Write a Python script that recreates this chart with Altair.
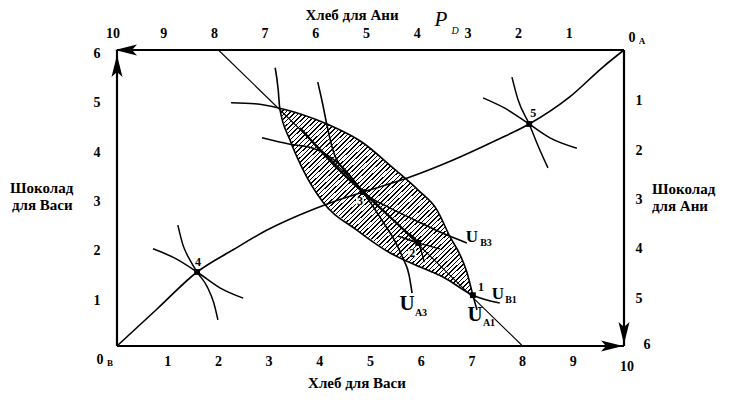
import altair as alt
import pandas as pd

# ===== Data: bread (x) and chocolate (y), counted from Vasya's origin 0_B =====
BREAD_MAX = 10
CHOC_MAX = 6

BUDGET_X = [2, 8]
BUDGET_Y = [6, 0]

CONTRACT_X = [0, 0.79, 1.58, 2.29, 2.96, 3.61, 4.20, 4.85, 5.74, 6.63, 7.50, 8.13, 8.93, 9.59, 10]
CONTRACT_Y = [0, 0.75, 1.50, 1.95, 2.35, 2.66, 2.90, 3.12, 3.41, 3.77, 4.18, 4.50, 5.05, 5.66, 6]

UA1_X = [2.25, 2.72, 3.21, 4.14, 4.85, 5.42, 5.94, 6.31, 6.57, 6.77, 6.90, 7.02, 7.10]
UA1_Y = [4.93, 4.91, 4.82, 4.50, 4.12, 3.63, 3.16, 2.76, 2.21, 1.84, 1.50, 1.03, 0.73]

UB1_X = [3.12, 3.18, 3.21, 3.41, 3.67, 4.06, 4.73, 5.38, 5.98, 6.43, 7.02, 7.55]
UB1_Y = [5.64, 5.19, 4.82, 4.18, 3.57, 2.92, 2.35, 1.89, 1.60, 1.40, 1.03, 0.87]

UA3_X = [2.86, 3.41, 3.87, 4.40, 4.85, 5.25, 5.50, 5.64, 5.76, 5.82]
UA3_Y = [4.22, 4.09, 4.01, 3.67, 3.12, 2.51, 2.09, 1.78, 1.44, 1.07]

UB3_X = [3.96, 4.06, 4.14, 4.26, 4.50, 4.85, 5.38, 5.88, 6.37, 6.90]
UB3_Y = [5.35, 4.89, 4.48, 3.97, 3.53, 3.12, 2.80, 2.55, 2.31, 2.09]

DIAG_X = [3.61, 4.34, 4.85, 5.38, 5.94]
DIAG_Y = [4.42, 3.61, 3.12, 2.62, 2.09]

UA2_X = [5.68, 5.94, 6.06]
UA2_Y = [2.31, 2.09, 1.70]
UB2_X = [5.54, 5.94, 6.37]
UB2_Y = [2.23, 2.09, 1.97]

C4A_X = [0.71, 1.14, 1.58, 2.03, 2.49]
C4A_Y = [1.97, 1.78, 1.50, 1.18, 0.97]
C4B_X = [1.20, 1.30, 1.44, 1.58, 1.78, 1.91, 1.99]
C4B_Y = [2.45, 2.05, 1.74, 1.50, 1.20, 0.87, 0.53]

C5A_X = [7.79, 7.91, 8.13, 8.30, 8.50]
C5A_Y = [5.45, 4.99, 4.50, 4.07, 3.61]
C5B_X = [7.22, 7.65, 8.13, 8.54, 9.07]
C5B_Y = [5.03, 4.82, 4.50, 4.22, 4.01]

# lens between U_A1 and U_B1 (shaded)
LENS_X = [3.21, 3.41, 3.67, 4.06, 4.40, 4.73, 5.09, 5.38, 5.68, 5.98, 6.31, 6.57, 6.77, 6.90, 7.02]
LENS_TOP = [4.82, 4.76, 4.68, 4.54, 4.38, 4.20, 3.93, 3.67, 3.41, 3.12, 2.76, 2.21, 1.84, 1.50, 1.03]
LENS_BOT = [4.82, 4.18, 3.57, 2.92, 2.62, 2.35, 2.11, 1.89, 1.74, 1.60, 1.44, 1.32, 1.20, 1.12, 1.03]

POINT_NAMES = ["1", "2", "3", "4", "5"]
POINT_X = [7.02, 5.94, 4.85, 1.58, 8.13]
POINT_Y = [1.03, 2.09, 3.12, 1.50, 4.50]

BREAD_TICKS = list(range(1, 10))
ANYA_BREAD_TICKS = list(range(1, 11))
VASYA_CHOC_TICKS = list(range(1, 7))
ANYA_CHOC_TICKS = list(range(1, 6))

# ===== Layout =====
W, H = 735, 398
BOX_L, BOX_R = 109, 616
BOX_B, BOX_T = 338, 42
FONT = "Liberation Serif"
INK = "black"

UX = (BOX_R - BOX_L) / BREAD_MAX
UY = (BOX_B - BOX_T) / CHOC_MAX
XS = alt.Scale(domain=[-BOX_L / UX, (W - BOX_L) / UX], nice=False, zero=False)
YS = alt.Scale(domain=[-(H - BOX_B) / UY, CHOC_MAX + BOX_T / UY], nice=False, zero=False)

LABEL_OFFSETS = {"1": (8, -8), "2": (-6, 10), "3": (-3, 9), "4": (1, -10), "5": (4, -11)}
LABEL_BACKED = {"2", "3"}  # labels sitting inside the hatching get a white patch


def xq(field="x"):
    return alt.X(f"{field}:Q", scale=XS, axis=None)


def yq(field="y"):
    return alt.Y(f"{field}:Q", scale=YS, axis=None)


def curve(xs, ys, width=1.5, interp="monotone"):
    df = pd.DataFrame({"x": xs, "y": ys, "i": range(len(xs))})
    return alt.Chart(df).mark_line(color=INK, strokeWidth=width, interpolate=interp).encode(
        x=xq(), y=yq(), order="i:Q"
    )


def label(text, px, py, size=15, weight="bold", style="normal", align="center"):
    # px, py: page pixels
    return alt.Chart(pd.DataFrame({"t": [text]})).mark_text(
        font=FONT, fontSize=size, fontWeight=weight, fontStyle=style, align=align,
        baseline="middle", color=INK,
    ).encode(x=alt.value(px - 8), y=alt.value(py - 8), text="t:N")


def ticks(df, dx, dy, size=14):
    return alt.Chart(df).mark_text(
        font=FONT, fontSize=size, fontWeight="bold", dx=dx, dy=dy, baseline="middle", color=INK
    ).encode(x=xq(), y=yq(), text="t:N")


# ===== hatching via striped gradient =====
N_STRIPES = 82
INK_SHARE = 0.32
stops = []
for k in range(N_STRIPES):
    a = k / N_STRIPES
    b = (k + INK_SHARE) / N_STRIPES
    stops += [
        alt.GradientStop(color="white", offset=a),
        alt.GradientStop(color=INK, offset=a),
        alt.GradientStop(color=INK, offset=b),
        alt.GradientStop(color="white", offset=b),
    ]
HATCH = alt.LinearGradient(gradient="linear", stops=stops, x1=0, y1=0, x2=1, y2=1)

lens = alt.Chart(pd.DataFrame({"x": LENS_X, "top": LENS_TOP, "bot": LENS_BOT})).mark_area(
    fill=HATCH, interpolate="monotone"
).encode(x=xq(), y=yq("top"), y2="bot:Q")

layers = [lens]

# ===== box axes =====
axes = pd.DataFrame({
    "x": [0, 0, 0, BREAD_MAX],
    "x2": [BREAD_MAX, 0, BREAD_MAX, BREAD_MAX],
    "y": [0, 0, CHOC_MAX, 0],
    "y2": [0, CHOC_MAX, CHOC_MAX, CHOC_MAX],
})
layers.append(
    alt.Chart(axes).mark_rule(color=INK, strokeWidth=2.2).encode(
        x=xq(), x2="x2:Q", y=yq(), y2="y2:Q"
    )
)

ARROW = "M0,-1L0.5,1L0,0.55L-0.5,1Z"
corner = [(0, CHOC_MAX, 0, 0, 16), (0, CHOC_MAX, 270, 9, 0), (BREAD_MAX, 0, 90, -12, 0), (BREAD_MAX, 0, 180, 0, -13)]
for cx, cy, ang, ox, oy in corner:
    layers.append(
        alt.Chart(pd.DataFrame({"x": [cx], "y": [cy]})).mark_point(
            shape=ARROW, size=484, filled=True, color=INK, opacity=1, angle=ang,
            xOffset=ox, yOffset=oy, strokeWidth=0,
        ).encode(x=xq(), y=yq())
    )

# ===== curves =====
layers.append(curve(BUDGET_X, BUDGET_Y, width=1.1, interp="linear"))
layers.append(curve(CONTRACT_X, CONTRACT_Y, width=1.6))
layers.append(curve(UA1_X, UA1_Y, width=1.6))
layers.append(curve(UB1_X, UB1_Y, width=1.6))
layers.append(curve(UA3_X, UA3_Y, width=1.6))
layers.append(curve(UB3_X, UB3_Y, width=1.6))
layers.append(curve(DIAG_X, DIAG_Y, width=2.2))
layers.append(curve(UA2_X, UA2_Y, width=1.4))
layers.append(curve(UB2_X, UB2_Y, width=1.4))
layers.append(curve(C4A_X, C4A_Y))
layers.append(curve(C4B_X, C4B_Y))
layers.append(curve(C5A_X, C5A_Y))
layers.append(curve(C5B_X, C5B_Y))

# ===== points =====
pts = pd.DataFrame({"x": POINT_X, "y": POINT_Y, "t": POINT_NAMES})
layers.append(
    alt.Chart(pts).mark_square(size=34, color=INK, opacity=1).encode(x=xq(), y=yq())
)
for name, px_, py_ in zip(POINT_NAMES, POINT_X, POINT_Y):
    dx, dy = LABEL_OFFSETS[name]
    one = pd.DataFrame({"x": [px_], "y": [py_], "t": [name]})
    if name in LABEL_BACKED:
        layers.append(
            alt.Chart(one).mark_square(
                size=64, color="white", opacity=1, xOffset=dx, yOffset=dy
            ).encode(x=xq(), y=yq())
        )
    layers.append(
        alt.Chart(one).mark_text(
            font=FONT, fontSize=12, fontWeight="bold", dx=dx, dy=dy, baseline="middle", color=INK
        ).encode(x=xq(), y=yq(), text="t:N")
    )

# ===== tick numbers =====
layers.append(ticks(pd.DataFrame({"x": BREAD_TICKS, "y": 0, "t": BREAD_TICKS}), 0, 16))
layers.append(ticks(pd.DataFrame({"x": [BREAD_MAX - v for v in ANYA_BREAD_TICKS], "y": CHOC_MAX,
                                  "t": ANYA_BREAD_TICKS}), -4, -16))
layers.append(ticks(pd.DataFrame({"x": 0, "y": VASYA_CHOC_TICKS, "t": VASYA_CHOC_TICKS}), -20, 4))
layers.append(ticks(pd.DataFrame({"x": BREAD_MAX, "y": [CHOC_MAX - v for v in ANYA_CHOC_TICKS],
                                  "t": ANYA_CHOC_TICKS}), 15, 2))
layers.append(ticks(pd.DataFrame({"x": [BREAD_MAX], "y": [0], "t": [BREAD_MAX]}), 3, 21))
layers.append(ticks(pd.DataFrame({"x": [BREAD_MAX], "y": [0], "t": [CHOC_MAX]}), 23, -1))

# ===== texts =====
layers += [
    label("Хлеб для Ани", 352, 15),
    label("Хлеб для Васи", 357, 383),
    label("Шоколад", 10, 188, align="left"),
    label("для Васи", 12, 205, align="left"),
    label("Шоколад", 652, 189, align="left"),
    label("для Ани", 652, 206, align="left"),
    label("P", 441, 20, size=21, weight="normal", style="italic"),
    label("D", 455, 31, size=10, weight="normal", style="italic"),
    label("0", 632, 38, size=14),
    label("A", 642, 41, size=9),
    label("0", 100, 360, size=14),
    label("B", 110, 363, size=9),
    label("U", 472, 237, size=17),
    label("B3", 486, 243, size=10),
    label("U", 498, 294, size=17),
    label("B1", 511, 300, size=10),
    label("U", 407, 304, size=21),
    label("A3", 421, 313, size=10),
    label("U", 475, 315, size=21),
    label("A1", 489, 323, size=10),
]

chart = alt.layer(*layers).properties(
    width=W, height=H, padding=0, autosize=alt.AutoSizeParams(type="none"), background="white"
).configure_view(stroke=None)

chart.save("out.html", embed_options={"renderer": "svg", "actions": False})
